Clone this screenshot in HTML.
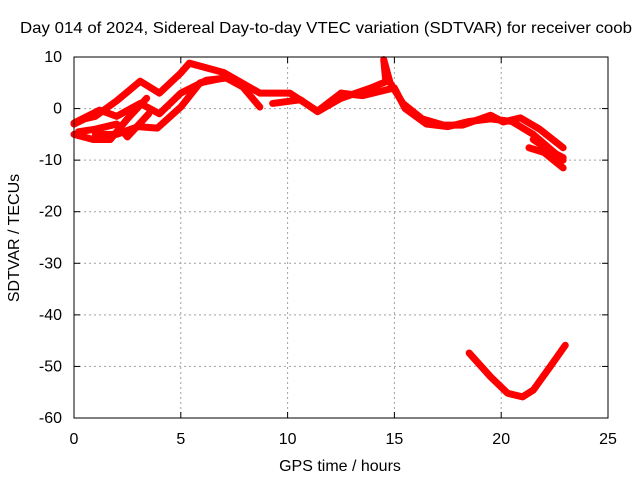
<!DOCTYPE html>
<html><head><meta charset="utf-8"><style>
body{margin:0;background:#fff;}
svg text{font-family:"Liberation Sans",sans-serif;font-size:16px;fill:#000;}
</style></head><body>
<svg id="chart" width="640" height="480">
<text x="20" y="33" textLength="612" lengthAdjust="spacingAndGlyphs">Day 014 of 2024, Sidereal Day-to-day VTEC variation (SDTVAR) for receiver coob</text>
<g id="grid"></g>
<g id="series"></g>
<rect x="74" y="57" width="534" height="361" fill="none" stroke="#000" stroke-width="1"/>
<g id="ticks"></g>
<text x="340" y="471" text-anchor="middle">GPS time / hours</text>
<text transform="translate(19,238) rotate(-90)" text-anchor="middle">SDTVAR / TECUs</text>
</svg>
<script>
const xTicks=[0,5,10,15,20,25];
const yTicks=[10,0,-10,-20,-30,-40,-50,-60];
const trackA=[[0,-3],[0.5,-2],[1,-1.5],[2,1.5],[3.1,5.3],[4,3],[5,6.9],[5.4,8.8],[7,7],[8.7,3],[10.1,3],[11.4,-0.5],[12.5,3]];
const trackB=[[0,-5],[0.9,-6],[1.7,-6],[2.5,-2],[3.4,2]];
const trackC=[[1,-5],[2,-5],[3,-3.5],[3.9,-3.8],[5,0.3],[5.9,5],[7.1,6],[7.9,4.2],[8.7,0.3]];
const trackD=[[0,-2.8],[1.2,-0.3],[2,-1.5],[3.1,1],[4,-1],[5,3],[6.2,5.5],[7.3,6]];
const trackE=[[0.2,-4.5],[1,-4],[2,-3],[2.5,-5.5],[3.5,-1]];
const trackF=[[9.3,1],[10.6,1.7],[11.4,-0.6],[12.5,2],[13.9,4],[14.6,5.2],[14.5,9.5],[14.8,5],[15.4,1],[16.3,-2],[17.3,-3.2],[18.2,-3.2],[19.5,-1.3],[20.1,-2.6],[20.9,-1.8],[21.8,-4],[22.9,-7.6]];
const trackG=[[12.5,3],[13.5,2.5],[14.5,3.5],[15,4],[15.5,0],[16.5,-3],[17.5,-3.5],[18.5,-2.5],[19.5,-2],[20.5,-2.5],[21.5,-5],[22.9,-10]];
const trackH=[[21.3,-7.6],[22,-8.5],[22.9,-11.5]];
const trackI=[[21.5,-6],[22.2,-8],[22.9,-9.5]];
const trackJ=[[18.5,-47.4],[19.5,-52],[20.3,-55.2],[21,-55.9],[21.5,-54.6],[22.3,-50],[23,-45.9]];
const tracks=[trackA,trackB,trackC,trackD,trackE,trackF,trackG,trackH,trackI,trackJ];
const X=h=>74+h*(534/25);
const Y=v=>57+(10-v)*(361/70);
const NS="http://www.w3.org/2000/svg";
const grid=document.getElementById('grid'),ticks=document.getElementById('ticks'),ser=document.getElementById('series');
function mk(tag,attrs,parent){const e=document.createElementNS(NS,tag);for(const k in attrs)e.setAttribute(k,attrs[k]);parent.appendChild(e);return e;}
xTicks.forEach(t=>{
  if(t>0&&t<25){const g=mk('line',{x1:X(t),x2:X(t),y1:57,y2:418,stroke:'#a0a0a0','stroke-dasharray':'2,3'},grid);
  
  }
  mk('line',{x1:X(t),x2:X(t),y1:418,y2:412,stroke:'#000'},ticks);
  mk('line',{x1:X(t),x2:X(t),y1:57,y2:63,stroke:'#000'},ticks);
  const l=mk('text',{x:X(t),y:444,'text-anchor':'middle'},ticks);l.textContent=t;
  
  
});
yTicks.forEach(t=>{
  if(t<10&&t>-60){const g=mk('line',{x1:74,x2:608,y1:Y(t),y2:Y(t),stroke:'#a0a0a0','stroke-dasharray':'2,3'},grid);
  
  }
  mk('line',{x1:74,x2:80,y1:Y(t),y2:Y(t),stroke:'#000'},ticks);
  mk('line',{x1:602,x2:608,y1:Y(t),y2:Y(t),stroke:'#000'},ticks);
  const l=mk('text',{x:62,y:Y(t)+5,'text-anchor':'end'},ticks);l.textContent=t;
  
  
});
tracks.forEach(tr=>{
  const p=mk('polyline',{points:tr.map(d=>X(d[0])+','+Y(d[1])).join(' '),fill:'none',stroke:'#ff0000','stroke-width':7,'stroke-linejoin':'round','stroke-linecap':'round'},ser);
  
  
});
</script>
</body></html>
